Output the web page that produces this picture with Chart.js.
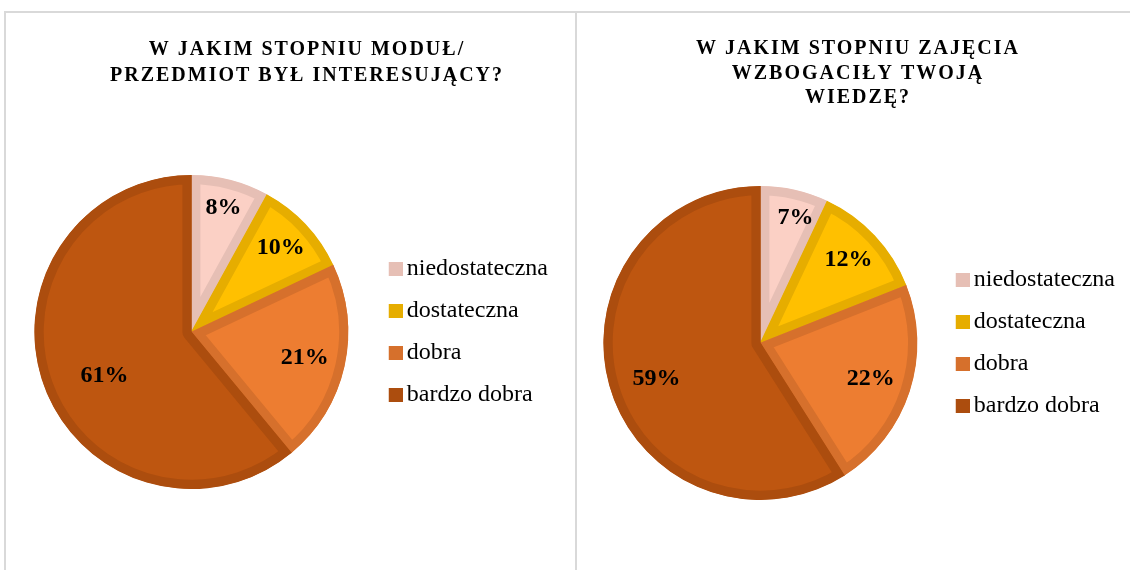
<!DOCTYPE html>
<html>
<head>
<meta charset="utf-8">
<script src="https://cdn.jsdelivr.net/npm/chart.js@4.4.0/dist/chart.umd.min.js"></script>
<style>
  body { margin: 0; background: #fff; }
  .frame { position: absolute; left: 4px; top: 11px; width: 1126px; height: 559px; border-top: 2px solid #d9d9d9; }
  .panel { position: absolute; top: 13px; height: 557px; border-left: 2px solid #d9d9d9; }
  #p1 { left: 4px; width: 569px; }
  #p2 { left: 575px; width: 553px; }
  canvas { display: block; }
</style>
</head>
<body>
<div class="frame"></div>
<div class="panel" id="p1"><canvas id="first--pie" width="569" height="557"></canvas></div>
<div class="panel" id="p2"><canvas id="second--pie" width="553" height="557"></canvas></div>
<script>
var categories = ["niedostateczna", "dostateczna", "dobra", "bardzo dobra"];
var valuesInteresting = [8, 10, 21, 61];
var valuesKnowledge = [7, 12, 22, 59];
var titleInteresting = ["W JAKIM STOPNIU MODUŁ/", "PRZEDMIOT BYŁ INTERESUJĄCY?"];
var titleKnowledge = ["W JAKIM STOPNIU ZAJĘCIA", "WZBOGACIŁY TWOJĄ", "WIEDZĘ?"];

var fills = ["#FBD0C5", "#FFC000", "#ED7D31", "#BE5610"];
var borders = ["#E6BFB5", "#E6AD00", "#D6702C", "#AC4D0E"];
var serif = "'Liberation Serif', 'Times New Roman', serif";

// legend square, shifted right inside the image so it sits close to the text
function marker(color) {
  var c = document.createElement("canvas");
  c.width = 24; c.height = 14;
  var x = c.getContext("2d");
  x.fillStyle = color;
  x.fillRect(10, 0, 14, 14);
  return c;
}

var headline = {
  id: "headline",
  afterDraw: function(chart, args, opts) {
    var ctx = chart.ctx;
    ctx.save();
    ctx.font = "bold 20px " + serif;
    ctx.letterSpacing = "2px";
    ctx.fillStyle = "#000";
    ctx.textAlign = "center";
    ctx.textBaseline = "middle";
    opts.lines.forEach(function(line, i) {
      ctx.fillText(line, opts.x, opts.y + i * opts.step);
    });
    ctx.restore();
  }
};

var percentLabels = {
  id: "percentLabels",
  afterDatasetsDraw: function(chart, args, opts) {
    var ctx = chart.ctx;
    var meta = chart.getDatasetMeta(0);
    var data = chart.data.datasets[0].data;
    ctx.save();
    ctx.font = "bold 24px " + serif;
    ctx.fillStyle = "#000";
    ctx.textAlign = "center";
    ctx.textBaseline = "middle";
    meta.data.forEach(function(arc, i) {
      var mid = (arc.startAngle + arc.endAngle) / 2 + opts.turn[i] * Math.PI / 180;
      var r = arc.outerRadius * opts.radius[i];
      ctx.fillText(data[i] + "%", arc.x + Math.cos(mid) * r, arc.y + Math.sin(mid) * r);
    });
    ctx.restore();
  }
};

function makePie(id, values, title, pad, head, labelPos) {
  return new Chart(document.getElementById(id), {
    type: "pie",
    data: {
      labels: categories,
      datasets: [{
        data: values,
        backgroundColor: fills,
        borderColor: borders,
        borderWidth: 9,
        borderAlign: "inner"
      }]
    },
    options: {
      responsive: false,
      animation: false,
      layout: { padding: pad },
      plugins: {
        tooltip: { enabled: false },
        legend: {
          position: "right",
          labels: {
            usePointStyle: true,
            pointStyleWidth: 8,
            padding: 18,
            color: "#000",
            font: { family: serif, size: 24 },
            generateLabels: function(chart) {
              return categories.map(function(c, i) {
                return { text: c, pointStyle: marker(borders[i]), fillStyle: borders[i], lineWidth: 0, index: i };
              });
            }
          }
        },
        headline: { lines: title, x: head.x, y: head.y, step: head.step },
        percentLabels: labelPos
      }
    },
    plugins: [headline, percentLabels]
  });
}

var chartPie = makePie("first--pie", valuesInteresting, titleInteresting,
  { top: 162, bottom: 81, left: 8, right: 17 },
  { x: 301, y: 37, step: 26 },
  { radius: [0.82, 0.78, 0.74, 0.62], turn: [0, 0, 0, -7] });
var chartPie2 = makePie("second--pie", valuesKnowledge, titleKnowledge,
  { top: 173, bottom: 70, left: 8, right: 5 },
  { x: 281, y: 36, step: 24.5 },
  { radius: [0.83, 0.77, 0.74, 0.7], turn: [3, 0, 0, -3] });
</script>
</body>
</html>
